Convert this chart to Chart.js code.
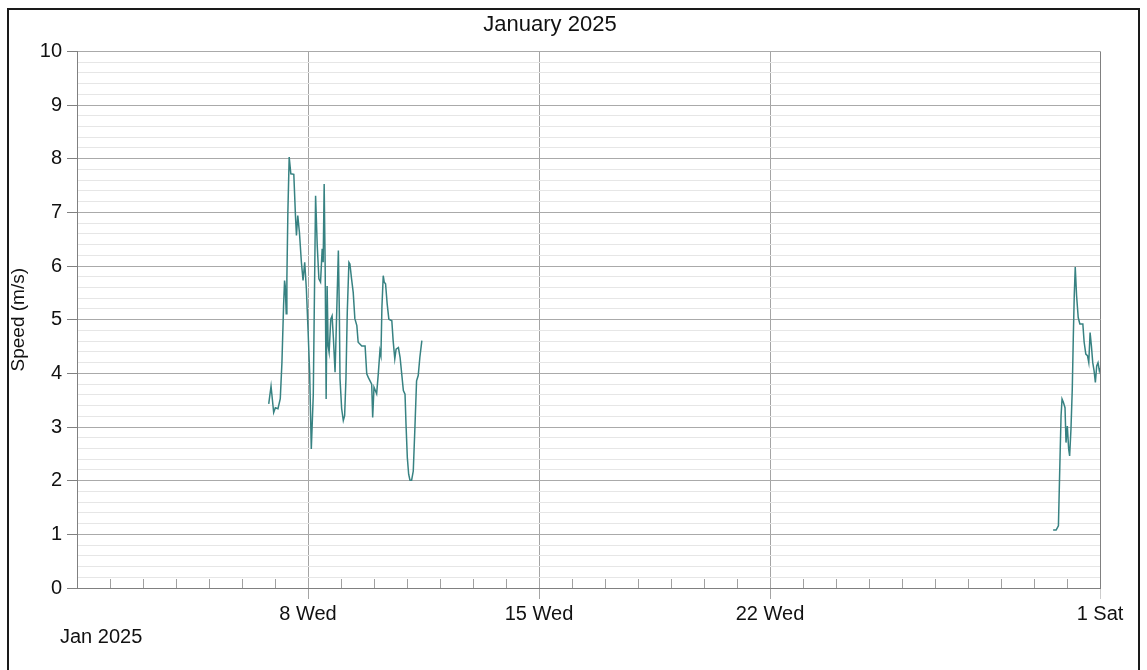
<!DOCTYPE html>
<html>
<head>
<meta charset="utf-8">
<title>Speed January 2025</title>
<script src="https://cdn.jsdelivr.net/npm/chart.js@4.4.1/dist/chart.umd.min.js"></script>
<style>
  html, body { margin: 0; padding: 0; background: #fff; overflow: hidden; }
  .frame { position: absolute; left: 7px; top: 8px; width: 1129px; height: 700px; border: 2px solid #1a1a1a; }
  #speedCanvas { position: absolute; left: 0; top: 0; }
</style>
</head>
<body>
<div class="frame"></div>
<canvas id="speedCanvas" width="1147" height="670"></canvas>
<script>
// x = days since 1 Jan 2025 00:00, y = wind speed in m/s
// first run of readings (6 Jan evening -> 11 Jan morning)
const dayA = [5.81, 5.88, 5.96, 6.01, 6.09, 6.16, 6.21, 6.26, 6.29, 6.31, 6.34, 6.36, 6.39, 6.43, 6.48, 6.57,
  6.62, 6.65, 6.69, 6.74, 6.80, 6.85, 6.90, 6.95, 7.00, 7.05, 7.10, 7.16, 7.23, 7.28, 7.33, 7.38,
  7.43, 7.46, 7.49, 7.52, 7.55, 7.58, 7.61, 7.64, 7.69, 7.73, 7.77, 7.82, 7.87, 7.92, 7.95, 7.97,
  8.02, 8.07, 8.11, 8.15, 8.19, 8.24, 8.27, 8.32, 8.37, 8.42, 8.48, 8.52, 8.63, 8.73, 8.78, 8.83,
  8.88, 8.93, 8.96, 9.00, 9.04, 9.08, 9.13, 9.18, 9.21, 9.24, 9.28, 9.31, 9.35, 9.40, 9.45, 9.54,
  9.58, 9.63, 9.67, 9.74, 9.79, 9.84, 9.89, 9.94, 9.97, 10.01, 10.05, 10.09, 10.14, 10.19, 10.24, 10.29,
  10.34, 10.39, 10.45]
const speedA = [3.43, 3.76, 3.27, 3.36, 3.34, 3.53, 4.2, 5.26, 5.73, 5.63, 5.11, 5.76, 7.0, 8.03, 7.72, 7.71,
  6.94, 6.57, 6.94, 6.63, 6.07, 5.73, 6.07, 5.58, 4.83, 4.02, 2.59, 3.6, 7.31, 6.38, 5.76, 5.7,
  6.32, 6.07, 7.53, 6.0, 3.52, 5.63, 4.51, 4.39, 5.01, 5.07, 4.65, 4.02, 5.14, 6.29, 5.14, 3.9,
  3.34, 3.12, 3.21, 3.9, 5.14, 6.07, 6.04, 5.76, 5.51, 5.02, 4.89, 4.58, 4.51, 4.51, 3.99, 3.92,
  3.86, 3.8, 3.18, 3.74, 3.68, 3.62, 3.99, 4.42, 4.33, 5.23, 5.82, 5.70, 5.67, 5.29, 5.01, 4.98,
  4.61, 4.27, 4.45, 4.48, 4.30, 3.99, 3.68, 3.61, 3.05, 2.43, 2.12, 2.01, 2.01, 2.18, 2.99, 3.86,
  3.96, 4.30, 4.61]

// second run (30 Jan afternoon -> end of month)
const dayB = [29.58, 29.67, 29.74, 29.79, 29.82, 29.85, 29.89, 29.94, 29.97, 30.01, 30.05, 30.08, 30.12, 30.16,
  30.19, 30.22, 30.25, 30.29, 30.34, 30.39, 30.48, 30.52, 30.57, 30.62, 30.66, 30.70, 30.74, 30.78,
  30.82, 30.86, 30.90, 30.94, 30.98, 31.0]
const speedB = [1.08, 1.08, 1.16, 2.46, 3.21, 3.52, 3.46, 3.36, 2.71, 3.02, 2.59, 2.46, 2.96, 3.71,
  4.64, 5.45, 5.98, 5.45, 5.04, 4.92, 4.92, 4.58, 4.36, 4.33, 4.20, 4.76, 4.51, 4.20,
  4.05, 3.83, 4.14, 4.20, 4.05, 4.10]

// labelled days on the x axis
const labelDays = [7, 14, 21, 31]
const labelTexts = ['8 Wed', '15 Wed', '22 Wed', '1 Sat']
const monthLabel = 'Jan 2025'

const fontFamily = "'Liberation Sans', Arial, sans-serif"
const lineColor = '#378282'

function toPoints(days, speeds) {
  return days.map((d, i) => ({ x: d, y: speeds[i] }))
}

function isWhole(v) {
  return Math.abs(v - Math.round(v)) < 1e-6
}

// small day ticks inside the plot + the month label under the axis
const axisExtras = {
  id: 'axisExtras',
  beforeDatasetsDraw(chart) {
    const ctx = chart.ctx
    const xs = chart.scales.x
    const bottom = chart.chartArea.bottom
    ctx.save()
    ctx.strokeStyle = '#a0a0a0'
    ctx.lineWidth = 1
    xs.ticks.forEach(t => {
      if (t.value === 0 || labelDays.includes(t.value)) return
      const px = Math.round(xs.getPixelForValue(t.value)) + 0.5
      ctx.beginPath()
      ctx.moveTo(px, bottom)
      ctx.lineTo(px, bottom - 9)
      ctx.stroke()
    })
    ctx.fillStyle = '#111'
    ctx.font = '20px ' + fontFamily
    ctx.textAlign = 'left'
    ctx.textBaseline = 'alphabetic'
    ctx.fillText(monthLabel, xs.left - 17, bottom + 55)
    ctx.restore()
  }
}

const speedCanvas = document.getElementById('speedCanvas')

const speedChart = new Chart(speedCanvas, {
  type: 'line',
  data: {
    datasets: [
      { data: toPoints(dayA, speedA), borderColor: lineColor, borderWidth: 1.5, pointRadius: 0, tension: 0 },
      { data: toPoints(dayB, speedB), borderColor: lineColor, borderWidth: 1.5, pointRadius: 0, tension: 0 }
    ]
  },
  options: {
    responsive: false,
    animation: false,
    layout: { padding: { left: 0, right: 47, top: 0, bottom: 0 } },
    scales: {
      x: {
        type: 'linear',
        min: 0,
        max: 31,
        afterBuildTicks: function(scale) {
          const t = []
          for (let d = 0; d <= 31; d++) t.push({ value: d })
          scale.ticks = t
        },
        afterFit: function(scale) { scale.height = 82 },
        border: { display: true, color: '#808080', width: 1 },
        grid: {
          color: function(c) {
            const v = c.tick && c.tick.value
            if (v === 31) return '#808080'
            if (labelDays.includes(v)) return '#a4a4a4'
            return 'rgba(0,0,0,0)'
          },
          tickColor: function(c) {
            const v = c.tick && c.tick.value
            if (v === 31) return '#cccccc'
            if (labelDays.includes(v)) return '#a4a4a4'
            return 'rgba(0,0,0,0)'
          },
          tickLength: 11
        },
        ticks: {
          autoSkip: false,
          maxRotation: 0,
          padding: 3,
          color: '#111',
          font: { family: fontFamily, size: 20 },
          callback: function(value) {
            const i = labelDays.indexOf(value)
            return i >= 0 ? labelTexts[i] : ''
          }
        }
      },
      y: {
        min: 0,
        max: 10,
        afterFit: function(scale) { scale.width = 77 },
        border: { display: true, color: '#808080', width: 1 },
        grid: {
          color: function(c) {
            return isWhole(c.tick.value) ? '#aaaaaa' : '#e6e6e6'
          },
          tickColor: function(c) {
            return isWhole(c.tick.value) ? '#808080' : 'rgba(0,0,0,0)'
          },
          tickLength: 10
        },
        ticks: {
          stepSize: 0.2,
          autoSkip: false,
          padding: 5,
          color: '#111',
          font: { family: fontFamily, size: 20 },
          callback: function(value) {
            return isWhole(value) ? String(Math.round(value)) : ''
          }
        },
        title: {
          display: true,
          text: 'Speed (m/s)',
          color: '#111',
          font: { family: fontFamily, size: 19 },
          padding: { top: 7, bottom: 0 }
        }
      }
    },
    plugins: {
      legend: { display: false },
      tooltip: { enabled: false },
      title: {
        display: true,
        text: 'January 2025',
        color: '#111',
        font: { family: fontFamily, size: 22, weight: 'normal' },
        padding: { top: 12, bottom: 13 }
      }
    }
  },
  plugins: [axisExtras]
})
</script>
</body>
</html>
